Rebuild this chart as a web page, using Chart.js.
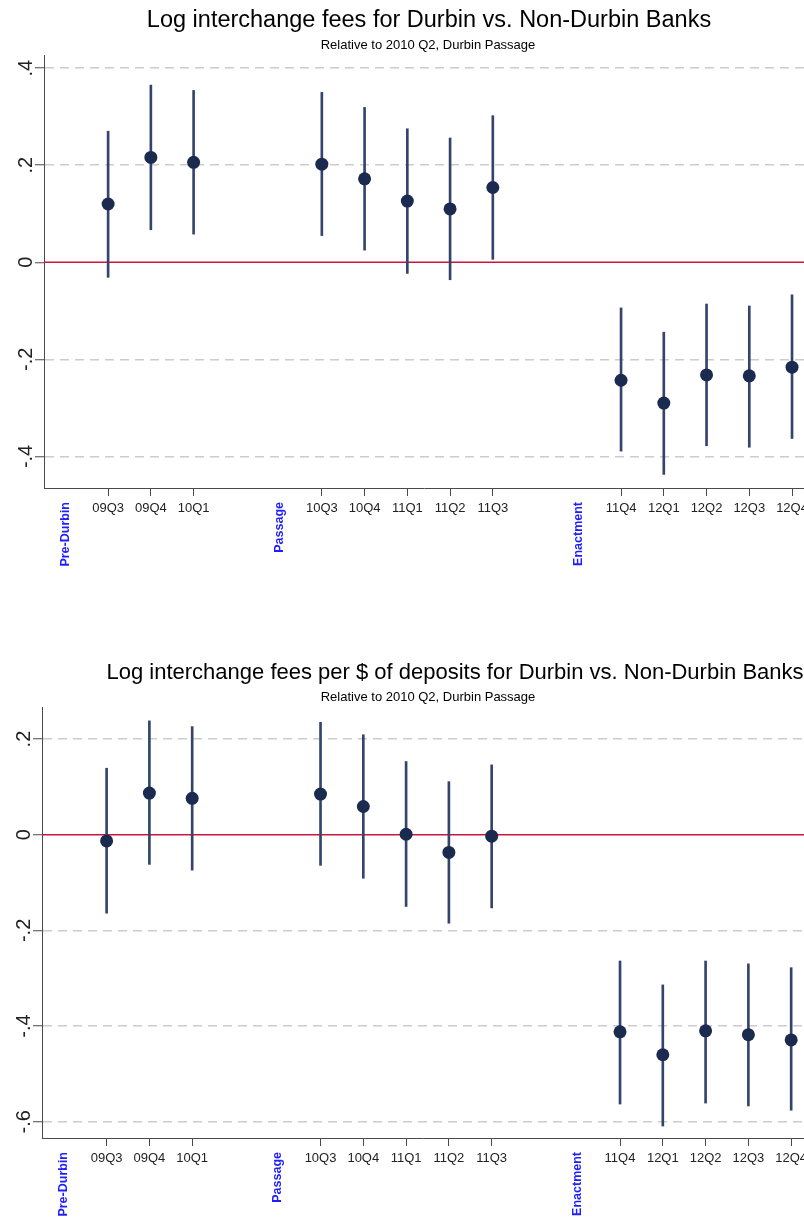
<!DOCTYPE html>
<html>
<head>
<meta charset="utf-8">
<script src="https://cdn.jsdelivr.net/npm/chart.js@4.4.1/dist/chart.umd.min.js"></script>
<style>
  html, body { margin: 0; padding: 0; background: #fff; overflow: hidden; }
  canvas { display: block; }
</style>
</head>
<body>
<canvas id="fees" width="804" height="612"></canvas>
<canvas id="perDeposit" width="804" height="612"></canvas>
<script>
// event-time positions on the x axis (10Q2 is the omitted base quarter)
const quarterPos = [1, 2, 3, 6, 7, 8, 9, 10, 13, 14, 15, 16, 17];
const quarterLabels = ['09Q3', '09Q4', '10Q1', '10Q3', '10Q4', '11Q1', '11Q2', '11Q3', '11Q4', '12Q1', '12Q2', '12Q3', '12Q4'];
const eventPos = [0, 5, 12];
const eventLabels = ['Pre-Durbin', 'Passage', 'Enactment'];

// top panel: log interchange fees
const feesCoef = [0.120, 0.216, 0.206, 0.202, 0.172, 0.126, 0.110, 0.154, -0.243, -0.290, -0.232, -0.234, -0.216];
const feesLow  = [-0.031, 0.067, 0.058, 0.055, 0.025, -0.023, -0.036, 0.006, -0.389, -0.437, -0.378, -0.381, -0.363];
const feesHigh = [0.270, 0.365, 0.354, 0.350, 0.319, 0.275, 0.256, 0.302, -0.094, -0.144, -0.086, -0.090, -0.067];
const feesTicks = [0.4, 0.2, 0, -0.2, -0.4];
const feesTickLabels = ['.4', '.2', '0', '-.2', '-.4'];

// bottom panel: log interchange fees per $ of deposits
const depCoef = [-0.013, 0.087, 0.076, 0.085, 0.059, 0.001, -0.037, -0.003, -0.412, -0.460, -0.410, -0.418, -0.429];
const depLow  = [-0.164, -0.062, -0.074, -0.064, -0.091, -0.150, -0.185, -0.153, -0.563, -0.609, -0.561, -0.567, -0.576];
const depHigh = [0.139, 0.238, 0.226, 0.235, 0.209, 0.153, 0.111, 0.146, -0.264, -0.314, -0.264, -0.270, -0.278];
const depTicks = [0.2, 0, -0.2, -0.4, -0.6];
const depTickLabels = ['.2', '0', '-.2', '-.4', '-.6'];

const subtitle = 'Relative to 2010 Q2, Durbin Passage';

const family = '"Liberation Sans", Arial, Helvetica, sans-serif';
const navy = '#1b2a4f';
const barColor = '#34446c';
const axisColor = '#4a4a4a';
const gridColor = '#cccccc';
const zeroColor = '#c8163f';
const eventColor = '#1e1eff';

Chart.defaults.font.family = family;

function panelPlugin(cfg) {
  return {
    id: 'panel',
    beforeDatasetsDraw(chart) {
      const { ctx, chartArea, scales } = chart;
      const y0 = scales.y.getPixelForValue(0);
      ctx.save();
      ctx.strokeStyle = zeroColor;
      ctx.lineWidth = 1.6;
      ctx.beginPath();
      ctx.moveTo(chartArea.left, y0);
      ctx.lineTo(chartArea.right, y0);
      ctx.stroke();
      ctx.restore();
    },
    afterDraw(chart) {
      const { ctx, scales } = chart;
      ctx.save();
      ctx.fillStyle = '#000';
      ctx.textAlign = 'center';
      ctx.textBaseline = 'alphabetic';
      ctx.font = cfg.titleSize + 'px ' + family;
      ctx.fillText(cfg.title, cfg.titleX, cfg.titleY);
      ctx.font = '13px ' + family;
      ctx.fillText(subtitle, 428, cfg.subY);

      // rotated event markers under the axis
      ctx.fillStyle = eventColor;
      ctx.font = 'bold 12.5px ' + family;
      ctx.textAlign = 'right';
      ctx.textBaseline = 'middle';
      eventPos.forEach((p, i) => {
        const x = scales.x.getPixelForValue(p);
        ctx.save();
        ctx.translate(x, scales.x.top + 14);
        ctx.rotate(-Math.PI / 2);
        ctx.fillText(eventLabels[i], 0, 0);
        ctx.restore();
      });
      ctx.restore();
    }
  };
}

function makeChart(id, cfg) {
  return new Chart(document.getElementById(id), {
    type: 'scatter',
    data: {
      datasets: [
        {
          type: 'scatter',
          data: quarterPos.map((x, i) => ({ x: x, y: cfg.coef[i] })),
          pointRadius: 6.5,
          pointBackgroundColor: navy,
          pointBorderWidth: 0,
          order: 0
        },
        {
          type: 'bar',
          data: quarterPos.map((x, i) => ({ x: x, y: [cfg.low[i], cfg.high[i]] })),
          backgroundColor: barColor,
          borderWidth: 0,
          barThickness: 2,
          order: 1
        }
      ]
    },
    options: {
      responsive: false,
      animation: false,
      devicePixelRatio: 1,
      layout: { padding: { top: cfg.top, left: 0, right: 0, bottom: 0 }, autoPadding: false },
      plugins: {
        legend: { display: false },
        tooltip: { enabled: false },
        title: { display: false }
      },
      scales: {
        x: {
          type: 'linear',
          min: cfg.xMin,
          max: cfg.xMax,
          offset: false,
          afterBuildTicks: s => { s.ticks = quarterPos.map(v => ({ value: v })); },
          afterFit: s => { s.height = cfg.xHeight; s.paddingLeft = 0; s.paddingRight = 0; },
          grid: { offset: false, drawOnChartArea: false, drawTicks: true, tickLength: 8, tickColor: axisColor, tickWidth: 1 },
          border: { color: axisColor, width: 1 },
          ticks: {
            autoSkip: false,
            minRotation: 0,
            maxRotation: 0,
            padding: 5,
            color: '#222',
            font: { size: 13 },
            callback: v => quarterLabels[quarterPos.indexOf(v)]
          }
        },
        y: {
          type: 'linear',
          min: cfg.yMin,
          max: cfg.yMax,
          afterBuildTicks: s => { s.ticks = cfg.ticks.map(v => ({ value: v })); },
          afterFit: s => { s.width = cfg.yWidth; s.paddingTop = 0; s.paddingBottom = 0; },
          grid: {
            color: c => (c.tick && c.tick.value === 0) ? 'rgba(0,0,0,0)' : gridColor,
            lineWidth: 1.5,
            tickLength: 9,
            tickColor: axisColor,
            tickWidth: 1
          },
          border: { color: axisColor, width: 1, dash: [9, 6] },
          ticks: {
            minRotation: 90,
            maxRotation: 90,
            crossAlign: 'center',
            padding: -3,
            color: '#222',
            font: { size: 20 },
            callback: (v, i) => cfg.tickLabels[i]
          }
        }
      }
    },
    plugins: [panelPlugin(cfg)]
  });
}

makeChart('fees', {
  coef: feesCoef, low: feesLow, high: feesHigh,
  ticks: feesTicks, tickLabels: feesTickLabels,
  title: 'Log interchange fees for Durbin vs. Non-Durbin Banks',
  titleSize: 23.5, titleX: 429, titleY: 27, subY: 49,
  top: 55, xHeight: 124, yWidth: 44,
  xMin: -0.5, xMax: 17.28, yMin: -0.465, yMax: 0.427
});

makeChart('perDeposit', {
  coef: depCoef, low: depLow, high: depHigh,
  ticks: depTicks, tickLabels: depTickLabels,
  title: 'Log interchange fees per $ of deposits for Durbin vs. Non-Durbin Banks',
  titleSize: 22, titleX: 455, titleY: 67, subY: 89,
  top: 95, xHeight: 86, yWidth: 42,
  xMin: -0.51, xMax: 17.3, yMin: -0.634, yMax: 0.267
});
</script>
</body>
</html>
